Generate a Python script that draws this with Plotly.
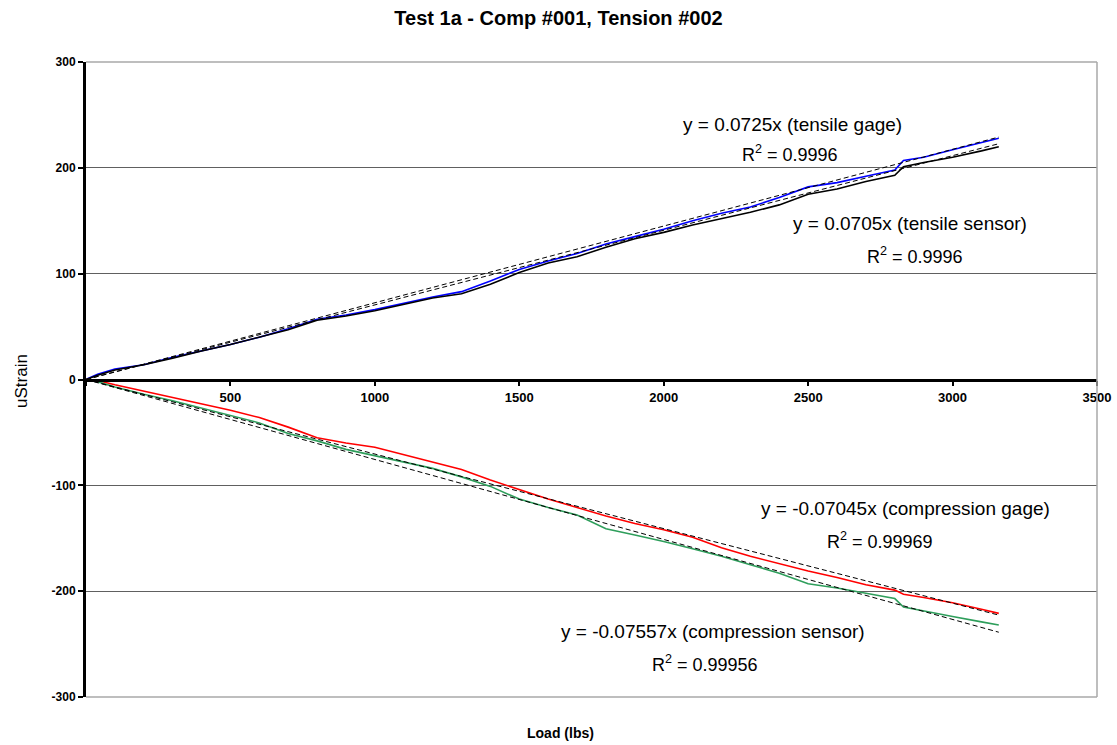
import plotly.graph_objects as go

# ---- data ----
load = [0, 40, 100, 200, 300, 400, 500, 600, 700, 800, 900, 1000, 1100, 1200, 1300, 1400, 1500,
        1600, 1700, 1800, 1900, 2000, 2100, 2200, 2300, 2400, 2500, 2600, 2700, 2800, 2830, 2900,
        3000, 3100, 3160]
tensile_gage = [0, 5, 10, 14, 21, 27, 33, 40, 48, 57, 61, 66, 72, 78, 83, 93, 104,
                112, 119, 128, 135, 142, 150, 157, 163, 172, 182, 186, 192, 198, 207, 210,
                217, 224, 228]
tensile_sensor = [0, 4, 9, 14, 20, 27, 33, 40, 47, 56, 60, 65, 71, 77, 81, 90, 101,
                  110, 116, 125, 133, 139, 146, 152, 158, 165, 175, 180, 187, 193, 201, 205,
                  210, 216, 220]
comp_gage = [0, -1, -5, -11, -17, -23, -29, -36, -45, -55, -60, -64, -71, -78, -85, -95, -104,
             -113, -121, -129, -136, -142, -149, -159, -167, -174, -181, -187, -194, -199, -203, -206,
             -211, -217, -221]
comp_sensor = [0, -2, -7, -14, -20, -27, -34, -41, -51, -58, -66, -72, -78, -84, -92, -101, -113,
               -121, -128, -141, -147, -153, -160, -167, -175, -183, -193, -197, -202, -207, -215, -219,
               -224, -229, -232]

series_names = ["tensile gage", "tensile sensor", "compression gage", "compression sensor"]
series_colors = ["#0000FF", "#000000", "#FF0000", "#2E9E5B"]
slopes = [0.0725, 0.0705, -0.07045, -0.07557]
r2_values = ["0.9996", "0.9996", "0.99969", "0.99956"]
trend_x = [0, 3160]

x_ticks = [0, 500, 1000, 1500, 2000, 2500, 3000, 3500]
x_tick_text = ["", "500", "1000", "1500", "2000", "2500", "3000", "3500"]
y_ticks = [-300, -200, -100, 0, 100, 200, 300]
y_tick_text = ["-300", "-200", "-100", "0", "100", "200", "300"]

FONT = "Liberation Sans, Arial, sans-serif"

fig = go.Figure()
all_series = [tensile_gage, tensile_sensor, comp_gage, comp_sensor]
for name, color, ys in zip(series_names, series_colors, all_series):
    fig.add_trace(go.Scatter(x=load, y=ys, mode="lines", name=name,
                             line=dict(color=color, width=1.6), showlegend=False))
for name, m in zip(series_names, slopes):
    fig.add_trace(go.Scatter(x=trend_x, y=[m * v for v in trend_x], mode="lines",
                             name="Linear (" + name + ")",
                             line=dict(color="#000000", width=1, dash="5px,3px"), showlegend=False))

W, H = 1117, 745
# plot-area edges in page pixels
L, R, T, B = 86, 1097, 62, 697

def px(xp):
    return (xp - L) / (R - L)

def py(yp):
    return (B - yp) / (B - T)

eq_texts = ["y = 0.0725x (tensile gage)", "y = 0.0705x (tensile sensor)",
            "y = -0.07045x (compression gage)", "y = -0.07557x (compression sensor)"]
eq_pos = [(792, 124), (910, 224), (905, 508), (713, 631)]
r2_pos = [(790, 153), (915, 256), (880, 540), (705, 663)]

annotations = []
for eq, r2, (ex, ey), (rx, ry) in zip(eq_texts, r2_values, eq_pos, r2_pos):
    annotations.append(dict(text=eq, x=px(ex), y=py(ey), xref="paper", yref="paper",
                            xanchor="center", yanchor="middle",
                            showarrow=False, font=dict(family=FONT, size=19, color="#000")))
    annotations.append(dict(text="R<sup>2</sup> = " + r2, x=px(rx), y=py(ry), xref="paper", yref="paper",
                            xanchor="center", yanchor="middle",
                            showarrow=False, font=dict(family=FONT, size=18, color="#000")))

annotations.append(dict(text="<b>Load (lbs)</b>", x=px(560), y=py(733), xref="paper", yref="paper",
                        xanchor="center", yanchor="middle",
                        showarrow=False, font=dict(family=FONT, size=14, color="#000")))
annotations.append(dict(text="uStrain", x=px(22), y=py(381), xref="paper", yref="paper",
                        xanchor="center", yanchor="middle",
                        textangle=-90, showarrow=False, font=dict(family=FONT, size=17, color="#000")))

shapes = [
    dict(type="line", xref="paper", yref="paper", x0=0, x1=1, y0=1, y1=1,
         line=dict(color="#A8A8A8", width=1.5)),
    dict(type="line", xref="paper", yref="paper", x0=1, x1=1, y0=0, y1=1,
         line=dict(color="#A8A8A8", width=1.5)),
    dict(type="line", xref="paper", yref="paper", x0=0, x1=1, y0=0, y1=0,
         line=dict(color="#A8A8A8", width=1.5)),
]

fig.update_layout(
    width=W, height=H,
    margin=dict(l=L, r=W - R, t=T, b=H - B, autoexpand=False),
    paper_bgcolor="white", plot_bgcolor="white",
    title=dict(text="<b>Test 1a - Comp #001, Tension #002</b>", x=0.5, xanchor="center",
               y=1 - 18 / H, yanchor="middle",
               font=dict(family=FONT, size=20, color="#000")),
    annotations=annotations,
    shapes=shapes,
    xaxis=dict(range=[0, 3500], tickvals=x_ticks, ticktext=x_tick_text,
               anchor="free", position=0.5, showline=True, linecolor="#000", linewidth=2.5,
               ticks="outside", ticklen=5, tickwidth=2, tickcolor="#000",
               showgrid=False, zeroline=False, ticklabeloverflow="allow",
               tickfont=dict(family=FONT, size=13, color="#000", weight="bold")),
    yaxis=dict(range=[-300, 300], tickvals=y_ticks, ticktext=y_tick_text,
               showline=True, linecolor="#000", linewidth=3,
               ticks="outside", ticklen=5, tickwidth=2, tickcolor="#000",
               showgrid=True, gridcolor="#606060", gridwidth=1, zeroline=False,
               tickfont=dict(family=FONT, size=12, color="#000", weight="bold")),
)

fig.write_html("out.html", config={"displayModeBar": False},
               post_script="document.body.style.margin='0';document.body.style.overflow='hidden';")
